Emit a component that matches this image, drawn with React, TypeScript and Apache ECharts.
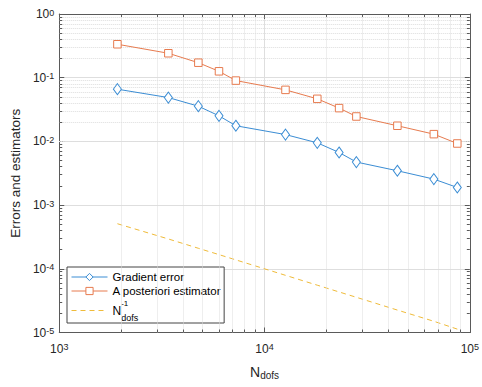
import React, { useEffect, useRef } from 'react';
import * as echarts from 'echarts';

// ---- data ----
const nDofs = [1920, 3400, 4760, 6000, 7250, 12650, 18070, 23080, 28010, 44370, 66790, 86900];
const gradientError = [0.066, 0.0488, 0.0357, 0.0252, 0.0176, 0.0128, 0.0095, 0.0067, 0.00474, 0.00346, 0.00256, 0.00189];
const posterioriEstimator = [0.335, 0.242, 0.172, 0.126, 0.0901, 0.0644, 0.0466, 0.0333, 0.0246, 0.0176, 0.013, 0.00927];
const referenceRate = [5.1e-4, 2.94e-4, 2.1e-4, 1.67e-4, 1.38e-4, 7.9e-5, 5.53e-5, 4.33e-5, 3.57e-5, 2.25e-5, 1.5e-5, 1.13e-5];

const xExtent = [1e3, 1e5];
const yExtent = [1e-5, 1];
const xMinorGrid = [2e3, 3e3, 4e3, 5e3, 6e3, 7e3, 8e3, 9e3, 2e4, 3e4, 4e4, 5e4, 6e4, 7e4, 8e4, 9e4];
const yMinorGrid = [
  2e-5, 3e-5, 4e-5, 5e-5, 6e-5, 7e-5, 8e-5, 9e-5,
  2e-4, 3e-4, 4e-4, 5e-4, 6e-4, 7e-4, 8e-4, 9e-4,
  2e-3, 3e-3, 4e-3, 5e-3, 6e-3, 7e-3, 8e-3, 9e-3,
  2e-2, 3e-2, 4e-2, 5e-2, 6e-2, 7e-2, 8e-2, 9e-2,
  0.2, 0.3, 0.4, 0.5, 0.6, 0.7, 0.8, 0.9,
];

const NAME_GRAD = 'Gradient error';
const NAME_EST = 'A posteriori estimator';
const NAME_REF = 'N_dofs^-1';

const BLUE = '#3b8dd4';
const ORANGE = '#e77b4f';
const YELLOW = '#efbb3a';
const AXIS = '#5a5a5a';
const TEXT = '#262626';
const FONT = '"Liberation Sans", Arial, Helvetica, sans-serif';

// minor tick length factors (about 3 px in log space)
const X_TICK_F = Math.pow(10, 3 / 206.5);
const Y_TICK_F = Math.pow(10, 3 / 63.8);

const zip = (xs: number[], ys: number[]) => xs.map((x, i) => [x, ys[i]]);

const powLabel = (v: number) => {
  const e = Math.round(Math.log10(v));
  return `{b|10}{s|${e}}`;
};

const labelRich = {
  b: { fontSize: 12, lineHeight: 12, padding: [3, 0, 0, 0], verticalAlign: 'bottom', color: TEXT, fontFamily: FONT },
  s: { fontSize: 9, lineHeight: 9, verticalAlign: 'top', color: TEXT, fontFamily: FONT },
};

export default function App() {
  const ref = useRef<HTMLDivElement>(null);
  useEffect(() => {
    document.body.style.margin = '0';
    if (!ref.current) return;
    const chart = echarts.init(ref.current, undefined, { renderer: 'svg' });

    const minorTickSegments: any[] = [];
    xMinorGrid.forEach((v) => {
      minorTickSegments.push([{ coord: [v, yExtent[0]] }, { coord: [v, yExtent[0] * Y_TICK_F] }]);
      minorTickSegments.push([{ coord: [v, yExtent[1]] }, { coord: [v, yExtent[1] / Y_TICK_F] }]);
    });
    yMinorGrid.forEach((v) => {
      minorTickSegments.push([{ coord: [xExtent[0], v] }, { coord: [xExtent[0] * X_TICK_F, v] }]);
      minorTickSegments.push([{ coord: [xExtent[1], v] }, { coord: [xExtent[1] / X_TICK_F, v] }]);
    });

    const baseAxis = {
      type: 'log' as const,
      logBase: 10,
      axisLine: { show: true, lineStyle: { color: AXIS, width: 1 } },
      axisTick: { show: true, inside: true, length: 5, lineStyle: { color: AXIS } },
      minorTick: { show: false },
    };

    chart.setOption({
      animation: false,
      backgroundColor: '#ffffff',
      textStyle: { fontFamily: FONT },
      grid: { left: 58.5, right: 10, top: 14, bottom: 54, containLabel: false },
      xAxis: [
        {
          ...baseAxis,
          position: 'bottom',
          min: xExtent[0],
          max: xExtent[1],
          axisLabel: { formatter: powLabel, margin: 10, rich: labelRich },
          splitLine: { show: true, lineStyle: { color: '#dedede', width: 1 } },
          name: '{n|N}{sub|dofs}',
          nameLocation: 'middle',
          nameGap: 32,
          nameTextStyle: {
            rich: {
              n: { fontSize: 14, lineHeight: 16, padding: [0, 0, 3.5, 0], verticalAlign: 'top', color: TEXT, fontFamily: FONT },
              sub: { fontSize: 10, lineHeight: 11, verticalAlign: 'bottom', color: TEXT, fontFamily: FONT },
            },
          },
        },
        {
          ...baseAxis,
          position: 'top',
          min: xExtent[0],
          max: xExtent[1],
          axisLabel: { show: false },
          splitLine: { show: false },
        },
      ],
      yAxis: [
        {
          ...baseAxis,
          position: 'left',
          min: yExtent[0],
          max: yExtent[1],
          axisLabel: { formatter: powLabel, margin: 5, rich: labelRich },
          splitLine: { show: true, lineStyle: { color: '#dedede', width: 1 } },
          name: 'Errors and estimators',
          nameLocation: 'middle',
          nameGap: 36,
          nameTextStyle: { fontSize: 13.5, color: TEXT, fontFamily: FONT },
        },
        {
          ...baseAxis,
          position: 'right',
          min: yExtent[0],
          max: yExtent[1],
          axisLabel: { show: false },
          splitLine: { show: false },
        },
      ],
      legend: {
        orient: 'vertical',
        left: 67,
        top: 267,
        padding: [4, 3, 1, 4],
        itemGap: 2,
        itemWidth: 36,
        itemHeight: 9,
        backgroundColor: '#ffffff',
        borderColor: '#444444',
        borderWidth: 1,
        borderRadius: 0,
        lineStyle: { width: 1 },
        itemStyle: { borderWidth: 1 },
        data: [
          NAME_GRAD,
          NAME_EST,
          { name: NAME_REF, itemStyle: { color: 'rgba(0,0,0,0)', borderColor: 'rgba(0,0,0,0)', borderWidth: 0 } },
        ],
        formatter: (name: string) => (name === NAME_REF ? '{n|N}{sup|-1}{sub|dofs}' : `{t|${name}}`),
        textStyle: {
          color: '#000',
          fontFamily: FONT,
          fontSize: 11.5,
          rich: {
            t: { fontSize: 11.5, lineHeight: 14, color: '#000', fontFamily: FONT },
            n: { fontSize: 12, lineHeight: 23, verticalAlign: 'middle', color: '#000', fontFamily: FONT },
            sup: { fontSize: 8, lineHeight: 9, width: 0, verticalAlign: 'top', color: '#000', fontFamily: FONT },
            sub: { fontSize: 9, lineHeight: 10, verticalAlign: 'bottom', color: '#000', fontFamily: FONT },
          },
        },
      },
      series: [
        {
          name: '__grid',
          type: 'line',
          data: [],
          silent: true,
          z: 1,
          markLine: {
            silent: true,
            symbol: ['none', 'none'],
            label: { show: false },
            lineStyle: { color: '#dcdcdc', type: 'dotted', width: 1 },
            emphasis: { disabled: true },
            data: [
              ...xMinorGrid.map((v) => ({ xAxis: v })),
              ...yMinorGrid.map((v) => ({ yAxis: v })),
            ],
          },
        },
        {
          name: '__ticks',
          type: 'line',
          data: [],
          silent: true,
          z: 2,
          markLine: {
            silent: true,
            symbol: ['none', 'none'],
            label: { show: false },
            lineStyle: { color: AXIS, type: 'solid', width: 1 },
            emphasis: { disabled: true },
            data: minorTickSegments,
          },
        },
        {
          name: NAME_GRAD,
          type: 'line',
          z: 5,
          data: zip(nDofs, gradientError),
          symbol: 'diamond',
          symbolSize: [8, 11],
          lineStyle: { color: BLUE, width: 1 },
          itemStyle: { color: '#ffffff', borderColor: BLUE, borderWidth: 1 },
        },
        {
          name: NAME_EST,
          type: 'line',
          z: 5,
          data: zip(nDofs, posterioriEstimator),
          symbol: 'rect',
          symbolSize: 7.5,
          lineStyle: { color: ORANGE, width: 1 },
          itemStyle: { color: '#ffffff', borderColor: ORANGE, borderWidth: 1 },
        },
        {
          name: NAME_REF,
          type: 'line',
          z: 4,
          data: zip(nDofs, referenceRate),
          symbol: 'none',
          lineStyle: { color: YELLOW, width: 1, type: [5, 4] },
          itemStyle: { color: YELLOW },
        },
      ],
    });
    return () => chart.dispose();
  }, []);
  return <div ref={ref} style={{ width: 482, height: 387 }} />;
}
